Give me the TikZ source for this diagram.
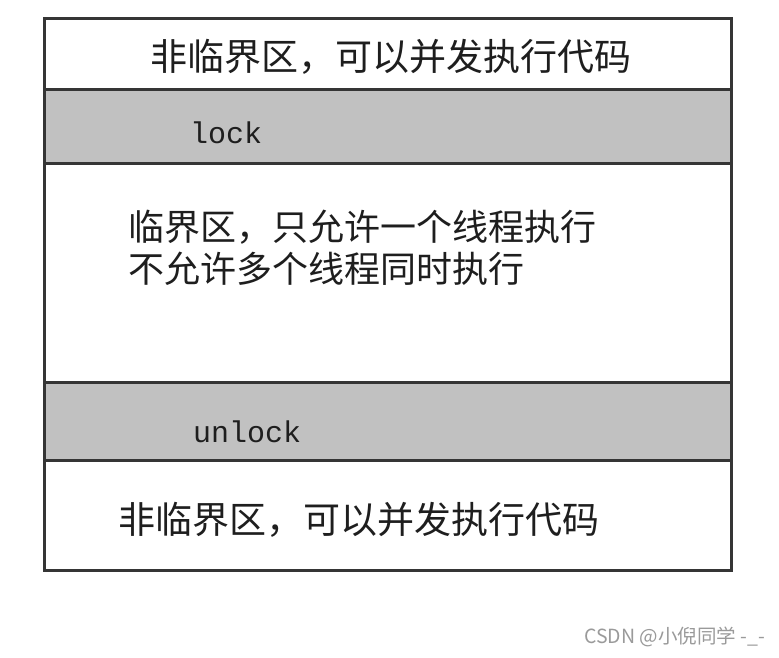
\documentclass[tikz,border=0pt]{standalone}
\usepackage{fontspec}
\usepackage{xcolor}
\newfontfamily\cjk{Noto Sans CJK SC}
\setmonofont{Liberation Mono}
\usetikzlibrary{positioning}
\definecolor{frame}{HTML}{353535}
\definecolor{band}{HTML}{C1C1C1}
\definecolor{ink}{HTML}{1E1E1E}
\definecolor{mark}{HTML}{9A9A9A}
\tikzset{
  zone/.style={draw=frame,line width=3pt,minimum width=687pt,inner sep=0pt,outer sep=0pt,anchor=north west},
  plain/.style={zone,fill=white},
  locked/.style={zone,fill=band},
  cntext/.style={font=\cjk\fontsize{37}{42}\selectfont,text=ink,anchor=west,inner sep=0pt,align=left},
  kw/.style={font=\ttfamily\fontsize{30}{30}\selectfont,text=ink,anchor=west,inner sep=0pt},
  watermark/.style={font=\cjk\fontsize{19.5}{19.5}\selectfont,text=mark,anchor=east,inner sep=0pt}
}
\begin{document}
\begin{tikzpicture}[x=1pt,y=-1pt,node distance=0pt]
  \useasboundingbox[fill=white] (0,0) rectangle (779,657);
  % stacked zones of the frame
  \node[plain,minimum height=71pt] (free1) at (44,18) {};
  \node[locked,minimum height=74pt,below=of free1.south west,anchor=north west] (lock) {};
  \node[plain,minimum height=219pt,below=of lock.south west,anchor=north west] (crit) {};
  \node[locked,minimum height=78pt,below=of crit.south west,anchor=north west] (unlock) {};
  \node[plain,minimum height=110pt,below=of unlock.south west,anchor=north west] (free2) {};
  % texts
  \node[cntext] (freetop) at (150,57) {非临界区，可以并发执行代码};
  \node[kw] (locktxt) at (190,133) {lock};
  \node[cntext,font=\cjk\fontsize{36}{42}\selectfont] (crittxt) at (128,248) {临界区，只允许一个线程执行\\不允许多个线程同时执行};
  \node[kw] (unlocktxt) at (193,432) {unlock};
  \node[cntext] (freebot) at (118,520) {非临界区，可以并发执行代码};
  \node[watermark] (credit) at (765,637) {CSDN @小倪同学 -\_-};
\end{tikzpicture}
\end{document}
